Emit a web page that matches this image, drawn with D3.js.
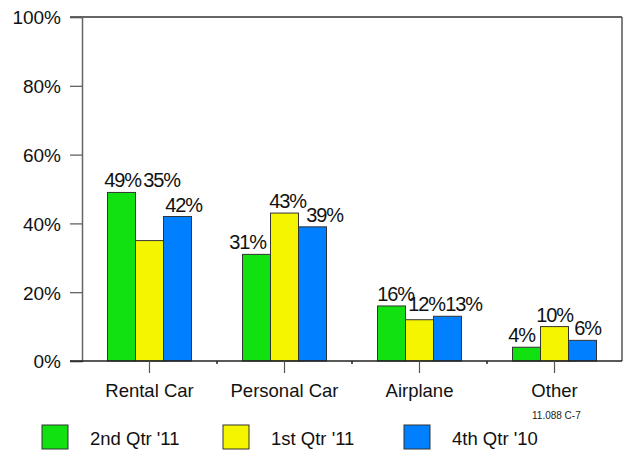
<!DOCTYPE html>
<html>
<head>
<meta charset="utf-8">
<script src="https://cdn.jsdelivr.net/npm/d3@7"></script>
<style>
  body { margin: 0; background: #fff; }
  svg { display: block; font-family: "Liberation Sans", Arial, sans-serif; }
</style>
</head>
<body>
<div id="chart"></div>
<script>
(function () {
    // Data
    const categories = ["Rental Car", "Personal Car", "Airplane", "Other"];
    const seriesNames = ["2nd Qtr '11", "1st Qtr '11", "4th Qtr '10"];
    const q2_11 = [49, 31, 16, 4];
    const q1_11 = [35, 43, 12, 10];
    const q4_10 = [42, 39, 13, 6];
    const yTicks = [0, 20, 40, 60, 80, 100];
    const colors = ["#11e011", "#f5f500", "#0080ff"];
    const series = [q2_11, q1_11, q4_10];

    const width = 624, height = 451;
    const margin = { top: 17, right: 2, bottom: 90, left: 82 };
    const plotW = width - margin.left - margin.right;
    const plotH = height - margin.top - margin.bottom;

    const svg = d3.select("#chart")
      .append("svg")
        .attr("width", width)
        .attr("height", height);

    const g = svg.append("g")
        .attr("transform", `translate(${margin.left},${margin.top})`);

    const x = d3.scaleBand()
      .domain(categories)
      .range([0, plotW]);

    const xs = d3.scaleBand()
      .domain(d3.range(series.length))
      .range([0, 84]);

    const y = d3.scaleLinear()
      .domain([0, 100])
      .range([plotH, 0]);

    // Frame: top and right lines
    g.append("line")
      .attr("x1", -12).attr("x2", plotW)
      .attr("y1", 0).attr("y2", 0)
      .attr("stroke", "#333").attr("stroke-width", 1.5);
    g.append("line")
      .attr("x1", plotW).attr("x2", plotW)
      .attr("y1", 0).attr("y2", plotH)
      .attr("stroke", "#555").attr("stroke-width", 1.5);

    // Y axis
    const yAxis = g.append("g")
      .call(d3.axisLeft(y).tickValues(yTicks).tickSize(12).tickFormat(d => d + "%"));
    yAxis.select(".domain").attr("stroke", "#666").attr("stroke-width", 1.5);
    yAxis.selectAll(".tick line").attr("stroke", "#555").attr("stroke-width", 1.2);
    yAxis.selectAll(".tick text")
      .attr("x", -21)
      .attr("dy", "0.36em")
      .style("font-family", "Liberation Sans, Arial, sans-serif")
      .style("font-size", "19px")
      .attr("fill", "#111");

    // Bars
    const groups = g.append("g")
      .selectAll("g")
      .data(categories)
      .join("g")
        .attr("transform", d => `translate(${x(d) + x.bandwidth() / 2 - 42},0)`);

    groups.selectAll("rect")
      .data((c, ci) => series.map((s, si) => ({ si: si, v: s[ci] })))
      .join("rect")
        .attr("x", d => xs(d.si))
        .attr("y", d => y(d.v))
        .attr("width", xs.bandwidth())
        .attr("height", d => plotH - y(d.v))
        .attr("fill", d => colors[d.si])
        .attr("stroke", "#333")
        .attr("stroke-width", 1);

    // Value labels; small nudges so neighbouring labels don't collide
    const nudge = {
      "0-0": { dx: 1 }, "0-1": { dx: 12, lift: 49 }, "0-2": { dx: 6 },
      "1-0": { dx: -9 }, "1-1": { dx: 3 }, "1-2": { dx: 12 },
      "2-0": { dx: 4 }, "2-1": { dx: 7, lift: 13 }, "2-2": { dx: 16 },
      "3-0": { dx: -5 }, "3-1": { dx: 0 }, "3-2": { dx: 5 }
    };
    groups.each(function (c, ci) {
      d3.select(this).selectAll("text.val")
        .data(series.map((s, si) => ({ si: si, v: s[ci] })))
        .join("text")
          .attr("class", "val")
          .attr("x", d => xs(d.si) + xs.bandwidth() / 2 + ((nudge[ci + "-" + d.si] || {}).dx || 0))
          .attr("y", d => y((nudge[ci + "-" + d.si] || {}).lift || d.v) - 5)
          .attr("text-anchor", "middle")
          .style("font-size", "20px")
          .style("letter-spacing", "-1.2px")
          .attr("fill", "#111")
          .text(d => d.v + "%");
    });

    // X axis
    g.append("line")
      .attr("x1", -12).attr("x2", plotW)
      .attr("y1", plotH).attr("y2", plotH)
      .attr("stroke", "#222").attr("stroke-width", 1.5);

    const xAxis = g.append("g")
      .attr("transform", `translate(0,${plotH})`)
      .call(d3.axisBottom(x).tickSize(12).tickSizeOuter(0));
    xAxis.select(".domain").remove();
    xAxis.selectAll(".tick line").attr("stroke", "#555").attr("stroke-width", 1.2);
    xAxis.selectAll(".tick text")
      .attr("y", 23)
      .attr("dy", "0.71em")
      .style("font-family", "Liberation Sans, Arial, sans-serif")
      .style("font-size", "18.5px")
      .attr("fill", "#111");

    // minor ticks between categories
    g.append("g")
      .selectAll("line")
      .data(categories.slice(1))
      .join("line")
        .attr("x1", d => x(d)).attr("x2", d => x(d))
        .attr("y1", plotH).attr("y2", plotH + 3)
        .attr("stroke", "#222").attr("stroke-width", 1.5);

    // Footnote code
    svg.append("text")
      .attr("x", 532)
      .attr("y", 419)
      .style("font-size", "10px")
      .attr("fill", "#222")
      .text("11.088 C-7");

    // Legend
    const legend = svg.append("g")
      .attr("transform", "translate(42,425)");
    const legendX = [0, 181, 362];
    seriesNames.forEach((name, i) => {
      legend.append("rect")
        .attr("x", legendX[i])
        .attr("y", 0)
        .attr("width", 26)
        .attr("height", 24)
        .attr("fill", colors[i])
        .attr("stroke", "#333")
        .attr("stroke-width", 1);
      legend.append("text")
        .attr("x", legendX[i] + 48)
        .attr("y", 20)
        .style("font-size", "18.5px")
        .attr("fill", "#111")
        .text(name);
    });
})();
</script>
</body>
</html>
